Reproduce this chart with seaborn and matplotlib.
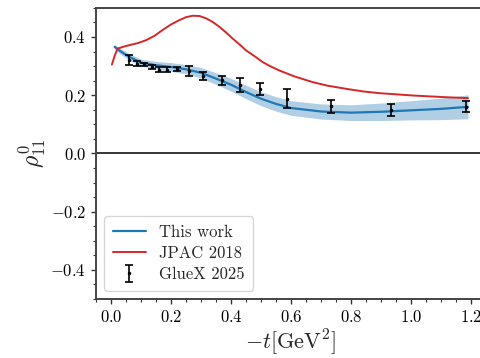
import numpy as np
import pandas as pd
import matplotlib
matplotlib.use("Agg")
import matplotlib.pyplot as plt
from matplotlib.ticker import MultipleLocator
import seaborn as sns

# ---- data ----
gx_t = [0.061, 0.085, 0.111, 0.137, 0.161, 0.187, 0.219, 0.259, 0.308, 0.370,
        0.430, 0.497, 0.585, 0.732, 0.933, 1.183]
gx_rho = [0.322, 0.308, 0.306, 0.297, 0.288, 0.288, 0.291, 0.282, 0.265, 0.251,
          0.236, 0.220, 0.188, 0.162, 0.150, 0.161]
gx_err = [0.017, 0.008, 0.005, 0.006, 0.010, 0.008, 0.007, 0.017, 0.013, 0.016,
          0.024, 0.021, 0.032, 0.023, 0.020, 0.020]

tw_t = [0.012, 0.03, 0.06, 0.10, 0.15, 0.20, 0.25, 0.30, 0.35, 0.40, 0.45,
        0.50, 0.55, 0.60, 0.70, 0.80, 0.90, 1.00, 1.10, 1.19]
tw_rho = [0.366, 0.352, 0.332, 0.312, 0.303, 0.297, 0.289, 0.277, 0.257, 0.236,
          0.211, 0.188, 0.170, 0.156, 0.144, 0.140, 0.143, 0.148, 0.153, 0.160]
tw_err = [0.008, 0.010, 0.011, 0.012, 0.013, 0.015, 0.016, 0.018, 0.020, 0.022,
          0.023, 0.024, 0.025, 0.025, 0.026, 0.027, 0.030, 0.033, 0.037, 0.041]

jp_t = [0.003, 0.012, 0.022, 0.04, 0.061, 0.09, 0.117, 0.145, 0.172, 0.20, 0.228,
        0.25, 0.272, 0.295, 0.317, 0.34, 0.361, 0.383, 0.405, 0.43, 0.45, 0.48,
        0.505, 0.53, 0.561, 0.61, 0.672, 0.72, 0.783, 0.84, 0.894, 0.95, 1.005,
        1.06, 1.117, 1.19]
jp_rho = [0.305, 0.335, 0.360, 0.366, 0.372, 0.379, 0.389, 0.404, 0.424, 0.443,
          0.458, 0.468, 0.473, 0.472, 0.464, 0.451, 0.435, 0.416, 0.395, 0.373,
          0.354, 0.333, 0.314, 0.300, 0.285, 0.265, 0.245, 0.233, 0.222, 0.213,
          0.207, 0.203, 0.199, 0.196, 0.193, 0.190]

xticks = [0.0, 0.2, 0.4, 0.6, 0.8, 1.0, 1.2]
yticks = [-0.4, -0.2, 0.0, 0.2, 0.4]

# ---- style ----
sns.set_style("ticks")
plt.rcParams["font.family"] = ["cmr10"]
plt.rcParams["mathtext.fontset"] = "cm"
plt.rcParams["axes.formatter.use_mathtext"] = True
plt.rcParams["axes.unicode_minus"] = True

fig = plt.figure(figsize=(4.8, 3.58), dpi=100)
ax = fig.add_axes([0.2, 0.165, 0.8125, 0.813])

tw = pd.DataFrame({"t": tw_t, "rho": tw_rho, "err": tw_err})
jp = pd.DataFrame({"t": jp_t, "rho": jp_rho})

ax.fill_between(tw["t"], tw["rho"] - tw["err"], tw["rho"] + tw["err"],
                color="#1f77b4", alpha=0.35, lw=0)
sns.lineplot(data=tw, x="t", y="rho", ax=ax, color="#1f77b4", lw=1.6,
             label="This work")
sns.lineplot(data=jp, x="t", y="rho", ax=ax, color="#d62728", lw=1.4,
             label="JPAC 2018")
ax.errorbar(gx_t, gx_rho, yerr=gx_err, fmt=".", color="black", ms=3,
            elinewidth=1.2, capsize=3, capthick=1.2, label="GlueX 2025")
ax.axhline(0.0, color="black", lw=1.1)

ax.set_xlim(-0.05, 1.25)
ax.set_ylim(-0.5, 0.5)
ax.set_xticks(xticks)
ax.set_yticks(yticks)
ax.xaxis.set_minor_locator(MultipleLocator(0.05))
ax.yaxis.set_minor_locator(MultipleLocator(0.05))
ax.tick_params(which="major", direction="out", length=3.5, width=1.0,
               labelsize=12, colors="#333333", labelcolor="black")
ax.tick_params(which="minor", direction="out", length=2, width=0.8,
               colors="#333333")
for s in ax.spines.values():
    s.set_linewidth(1.4)
    s.set_color("#444444")
sns.despine(ax=ax, top=False, right=False)

ax.set_xlabel(r"$-t[\mathrm{GeV}^2]$", fontsize=16, labelpad=2)
ax.set_ylabel(r"$\rho^0_{11}$", fontsize=17, labelpad=2)

leg = ax.legend(loc="lower left", fontsize=12, frameon=True, fancybox=True,
                borderpad=0.5, handlelength=2.0, labelspacing=0.35)
leg.get_frame().set_edgecolor("#cccccc")

fig.savefig("out.png", dpi=100)
